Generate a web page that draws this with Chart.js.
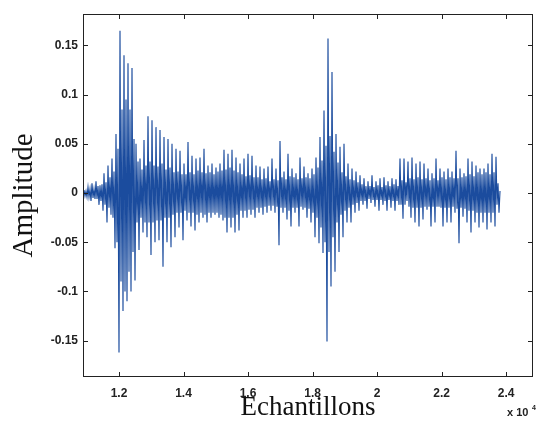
<!DOCTYPE html>
<html>
<head>
<meta charset="utf-8">
<script src="https://cdn.jsdelivr.net/npm/chart.js@4/dist/chart.umd.min.js"></script>
<style>
  body { margin: 0; background: #fff; }
  #wrap { width: 541px; height: 425px; }
</style>
</head>
<body>
<div id="wrap"><canvas id="myChart"></canvas></div>
<script>
const sampleStart = 10915;
const sampleStep = 31;

// amplitude, one value per point
const amplitude = [
  0.003, -0.003, 0.002, -0.004, 0.006, -0.004, 0.004, -0.008,
  0.010, -0.005, 0.004, -0.006, 0.012, -0.006, 0.007, -0.012,
  0.008, -0.008, 0.009, -0.018, 0.020, -0.012, 0.011, -0.030,
  0.028, -0.015, 0.016, -0.022, 0.035, -0.025, 0.022, -0.056,
  0.060, -0.050, 0.045, -0.162, 0.165, -0.090, 0.085, -0.120,
  0.140, -0.100, 0.095, -0.110, 0.132, -0.080, 0.085, -0.100,
  0.127, -0.060, 0.055, -0.089, 0.050, -0.030, 0.032, -0.058,
  0.035, -0.025, 0.024, -0.040, 0.054, -0.030, 0.028, -0.045,
  0.078, -0.030, 0.032, -0.063, 0.074, -0.030, 0.028, -0.050,
  0.067, -0.028, 0.027, -0.048, 0.064, -0.028, 0.030, -0.075,
  0.057, -0.025, 0.024, -0.050, 0.055, -0.025, 0.026, -0.055,
  0.050, -0.022, 0.021, -0.045, 0.045, -0.020, 0.022, -0.035,
  0.043, -0.020, 0.019, -0.048, 0.030, -0.018, 0.019, -0.028,
  0.052, -0.020, 0.021, -0.034, 0.038, -0.020, 0.019, -0.038,
  0.035, -0.022, 0.023, -0.030, 0.036, -0.020, 0.021, -0.025,
  0.045, -0.022, 0.020, -0.030, 0.028, -0.020, 0.021, -0.025,
  0.030, -0.020, 0.019, -0.022, 0.026, -0.020, 0.022, -0.025,
  0.030, -0.022, 0.023, -0.028, 0.044, -0.025, 0.024, -0.040,
  0.040, -0.025, 0.026, -0.035, 0.044, -0.025, 0.023, -0.040,
  0.036, -0.022, 0.021, -0.038, 0.030, -0.018, 0.019, -0.025,
  0.035, -0.018, 0.017, -0.025, 0.040, -0.017, 0.018, -0.022,
  0.038, -0.017, 0.016, -0.025, 0.028, -0.015, 0.016, -0.020,
  0.027, -0.015, 0.014, -0.022, 0.025, -0.014, 0.015, -0.020,
  0.027, -0.013, 0.012, -0.018, 0.035, -0.013, 0.014, -0.020,
  0.025, -0.014, 0.013, -0.053, 0.053, -0.015, 0.016, -0.020,
  0.022, -0.015, 0.014, -0.027, 0.040, -0.018, 0.017, -0.034,
  0.025, -0.015, 0.016, -0.020, 0.020, -0.015, 0.014, -0.034,
  0.036, -0.014, 0.015, -0.017, 0.027, -0.015, 0.016, -0.025,
  0.020, -0.016, 0.015, -0.030, 0.025, -0.020, 0.019, -0.045,
  0.036, -0.025, 0.026, -0.051, 0.057, -0.035, 0.033, -0.061,
  0.084, -0.050, 0.048, -0.151, 0.157, -0.060, 0.058, -0.095,
  0.123, -0.045, 0.042, -0.080, 0.060, -0.030, 0.031, -0.060,
  0.047, -0.022, 0.021, -0.045, 0.050, -0.018, 0.017, -0.030,
  0.030, -0.015, 0.014, -0.030, 0.025, -0.012, 0.013, -0.020,
  0.022, -0.010, 0.011, -0.018, 0.018, -0.008, 0.009, -0.012,
  0.015, -0.008, 0.007, -0.016, 0.012, -0.006, 0.007, -0.010,
  0.018, -0.007, 0.006, -0.014, 0.012, -0.007, 0.008, -0.018,
  0.015, -0.007, 0.006, -0.012, 0.016, -0.008, 0.008, -0.018,
  0.012, -0.007, 0.007, -0.015, 0.015, -0.008, 0.009, -0.018,
  0.014, -0.008, 0.007, -0.012, 0.035, -0.012, 0.013, -0.026,
  0.035, -0.012, 0.011, -0.008, 0.032, -0.014, 0.015, -0.025,
  0.036, -0.015, 0.014, -0.030, 0.030, -0.015, 0.016, -0.034,
  0.032, -0.015, 0.014, -0.027, 0.030, -0.014, 0.015, -0.017,
  0.025, -0.014, 0.013, -0.034, 0.020, -0.014, 0.015, -0.030,
  0.035, -0.014, 0.013, -0.014, 0.025, -0.015, 0.016, -0.034,
  0.022, -0.015, 0.014, -0.030, 0.025, -0.015, 0.016, -0.030,
  0.022, -0.014, 0.015, -0.020, 0.043, -0.016, 0.015, -0.051,
  0.025, -0.015, 0.016, -0.024, 0.020, -0.016, 0.017, -0.030,
  0.035, -0.018, 0.019, -0.040, 0.032, -0.018, 0.017, -0.030,
  0.028, -0.020, 0.021, -0.035, 0.025, -0.020, 0.019, -0.030,
  0.025, -0.020, 0.021, -0.037, 0.030, -0.020, 0.019, -0.030,
  0.040, -0.020, 0.021, -0.034, 0.037, -0.012, 0.010, -0.020,
  0.002
];

const xTicks = [12000, 14000, 16000, 18000, 20000, 22000, 24000];
const xTickLabels = ['1.2', '1.4', '1.6', '1.8', '2', '2.2', '2.4'];
const yTicks = [-0.15, -0.1, -0.05, 0, 0.05, 0.1, 0.15];
const yTickLabels = ['-0.15', '-0.1', '-0.05', '0', '0.05', '0.1', '0.15'];

const points = amplitude.map((v, i) => ({ x: sampleStart + i * sampleStep, y: v }));

// matlab style box with inward ticks on all four sides + the x10^4 exponent
const boxPlugin = {
  id: 'box',
  afterDraw(chart) {
    const ctx = chart.ctx;
    const a = chart.chartArea;
    const xs = chart.scales.x, ys = chart.scales.y;
    ctx.save();
    ctx.strokeStyle = '#222';
    ctx.lineWidth = 1;
    ctx.strokeRect(a.left + 0.5, a.top + 0.5, a.right - a.left - 1, a.bottom - a.top - 1);
    ctx.beginPath();
    xTicks.forEach(t => {
      const px = Math.round(xs.getPixelForValue(t)) + 0.5;
      ctx.moveTo(px, a.bottom); ctx.lineTo(px, a.bottom - 5);
      ctx.moveTo(px, a.top); ctx.lineTo(px, a.top + 5);
    });
    yTicks.forEach(t => {
      const py = Math.round(ys.getPixelForValue(t)) + 0.5;
      ctx.moveTo(a.left, py); ctx.lineTo(a.left + 5, py);
      ctx.moveTo(a.right, py); ctx.lineTo(a.right - 5, py);
    });
    ctx.stroke();
    ctx.fillStyle = '#222';
    ctx.textBaseline = 'alphabetic';
    ctx.font = 'bold 11px "Liberation Sans", Arial, sans-serif';
    ctx.fillText('x 10', 507, 416);
    ctx.font = 'bold 7px "Liberation Sans", Arial, sans-serif';
    ctx.fillText('4', 532, 410);
    ctx.restore();
  }
};

const ctx = document.getElementById('myChart').getContext('2d');
const myChart = new Chart(ctx, {
  type: 'line',
  data: {
    datasets: [{
      data: points,
      borderColor: '#1b4c9e',
      borderWidth: 1.15,
      pointRadius: 0,
      tension: 0,
      fill: false
    }]
  },
  options: {
    responsive: true,
    maintainAspectRatio: false,
    animation: false,
    layout: { padding: { top: 14, right: 8, left: 0, bottom: 0 } },
    plugins: { legend: { display: false }, tooltip: { enabled: false } },
    scales: {
      x: {
        type: 'linear',
        min: 10884,
        max: 24834,
        grid: { display: false, drawTicks: false },
        border: { display: false },
        afterBuildTicks: s => { s.ticks = xTicks.map(v => ({ value: v })); },
        afterFit: s => { s.height = 48; },
        ticks: {
          padding: 9,
          color: '#222',
          font: { family: '"Liberation Sans", Arial, sans-serif', size: 12, weight: 'bold' },
          callback: (v) => xTickLabels[xTicks.indexOf(v)]
        },
        title: {
          display: true,
          text: 'Echantillons',
          color: '#111',
          font: { family: '"Liberation Serif", "Times New Roman", serif', size: 27, lineHeight: 1 },
          padding: { top: 0, bottom: 4 }
        }
      },
      y: {
        min: -0.187,
        max: 0.182,
        grid: { display: false, drawTicks: false },
        border: { display: false },
        afterBuildTicks: s => { s.ticks = yTicks.map(v => ({ value: v })); },
        afterFit: s => { s.width = 83; },
        ticks: {
          padding: 5,
          color: '#222',
          font: { family: '"Liberation Sans", Arial, sans-serif', size: 12, weight: 'bold' },
          callback: (v) => yTickLabels[yTicks.indexOf(v)]
        },
        title: {
          display: true,
          text: 'Amplitude',
          color: '#111',
          font: { family: '"Liberation Serif", "Times New Roman", serif', size: 29, lineHeight: 1 },
          padding: { top: 10, bottom: 0 }
        }
      }
    }
  },
  plugins: [boxPlugin]
});
</script>
</body>
</html>
